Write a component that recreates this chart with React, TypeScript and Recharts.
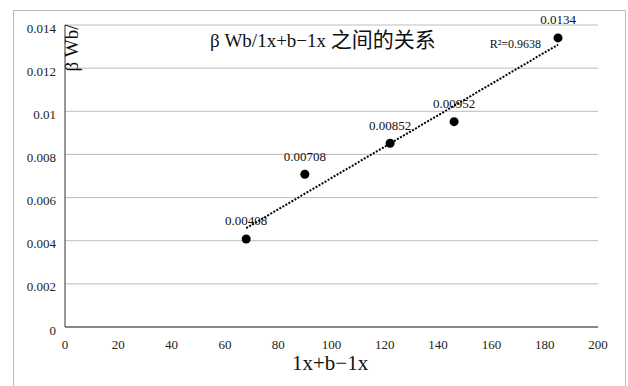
import React from 'react';
import { ScatterChart, Scatter, XAxis, YAxis, CartesianGrid, LabelList, ReferenceDot } from 'recharts';

const xValues = [68, 90, 122, 146, 185];
const yValues = [0.00408, 0.00708, 0.00852, 0.00952, 0.0134];
const pointLabels = ['0.00408', '0.00708', '0.00852', '0.00952', '0.0134'];
const trendX = [68, 185];
const trendY = [0.00458, 0.01309];
const xTicks = [0, 20, 40, 60, 80, 100, 120, 140, 160, 180, 200];
const yTicks = [0, 0.002, 0.004, 0.006, 0.008, 0.01, 0.012, 0.014];
const yTickLabels = ['0', '0.002', '0.004', '0.006', '0.008', '0.01', '0.012', '0.014'];
const titleLatin = 'β Wb/1x+b−1x ';
const titleCjk = '之间的关系';
const xAxisTitle = '1x+b−1x';
const yAxisTitle = 'β Wb/';
const r2Text = 'R²=0.9638';

const points = xValues.map((x, i) => ({ x, y: yValues[i], label: pointLabels[i] }));
const trend = trendX.map((x, i) => ({ x, y: trendY[i] }));

const FONT = '"Liberation Serif", "Noto Sans CJK SC", serif';

const YTick = (props: any) => {
  const { x, y, payload } = props;
  const idx = yTicks.indexOf(payload.value);
  const text = idx >= 0 ? yTickLabels[idx] : String(payload.value);
  return (
    <text x={x} y={y + 3} textAnchor="end" dominantBaseline="central" fill="#222" fontSize={13} fontFamily={FONT}>
      {text}
    </text>
  );
};

export default function App() {
  return (
    <div style={{ position: 'absolute', left: 0, top: 0, width: 628, height: 386, background: '#fff', overflow: 'hidden', fontFamily: FONT }}>
      <div style={{ position: 'absolute', left: 13, top: 10, width: 611, height: 400, border: '1px solid #bcbcbc' }} />
      <ScatterChart width={628} height={386} margin={{ top: 25, right: 30, bottom: 29, left: 5 }} style={{ fontFamily: FONT }}>
        <CartesianGrid horizontal={true} vertical={false} stroke="#bdbdbd" strokeWidth={1} />
        <XAxis
          type="number"
          dataKey="x"
          domain={[0, 200]}
          ticks={xTicks}
          tickLine={false}
          axisLine={{ stroke: '#333', strokeWidth: 1 }}
          height={30}
          tick={{ fill: '#222', fontSize: 13, fontFamily: FONT }}
          tickMargin={7}
        />
        <YAxis
          type="number"
          dataKey="y"
          domain={[0, 0.014]}
          ticks={yTicks}
          tickLine={false}
          axisLine={{ stroke: '#333', strokeWidth: 1 }}
          width={60}
          tick={<YTick />}
          tickMargin={3}
        />
        <Scatter data={points} fill="#000" isAnimationActive={false} shape={(p: any) => <circle cx={p.cx} cy={p.cy} r={4.5} fill="#000" />}>
          <LabelList dataKey="label" position="top" offset={9} style={{ fill: '#111', fontSize: 13, fontFamily: FONT }} />
        </Scatter>
        <Scatter
          data={trend}
          isAnimationActive={false}
          line={{ stroke: '#000', strokeWidth: 2, strokeDasharray: '2 1.5' }}
          shape={() => null}
        />
        <ReferenceDot
          x={169}
          y={0.01312}
          r={0}
          isFront
          label={{ value: r2Text, position: 'center', fill: '#111', fontSize: 12, fontFamily: FONT }}
        />
      </ScatterChart>
      <div style={{ position: 'absolute', left: 210, top: 28, fontSize: 19, lineHeight: '24px', color: '#111', whiteSpace: 'nowrap' }}>
        <span>{titleLatin}</span>
        <span style={{ fontSize: 21 }}>{titleCjk}</span>
      </div>
      <div style={{ position: 'absolute', left: 292, top: 350, fontSize: 21, lineHeight: '26px', color: '#111', whiteSpace: 'nowrap' }}>{xAxisTitle}</div>
      <div style={{ position: 'absolute', left: 71, top: 48, width: 0, height: 0 }}>
        <div style={{ position: 'absolute', transform: 'translate(-50%, -50%) rotate(-90deg)', fontSize: 19, lineHeight: '19px', color: '#111', whiteSpace: 'nowrap' }}>{yAxisTitle}</div>
      </div>
    </div>
  );
}
